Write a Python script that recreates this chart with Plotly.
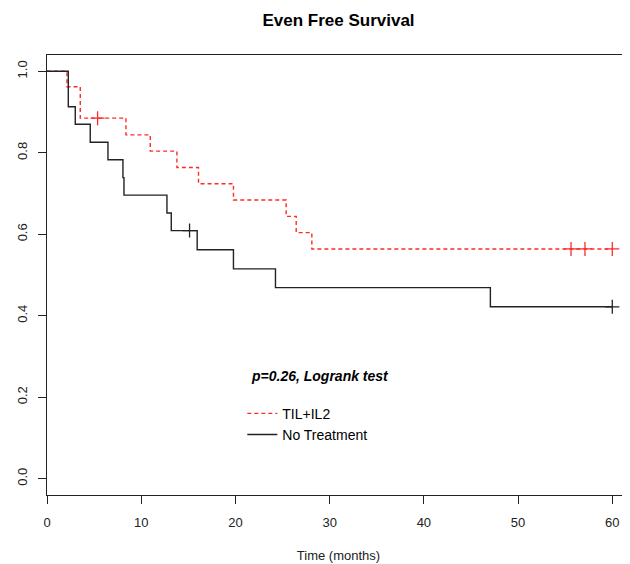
import plotly.graph_objects as go

# ---- data ----
til_times = [0, 2.12, 3.53, 8.38, 10.96, 13.79, 16.08, 19.79, 25.38, 26.45, 28.11, 60.0]
til_surv = [1.0, 0.962, 0.885, 0.844, 0.804, 0.764, 0.724, 0.684, 0.644, 0.604, 0.564, 0.564]
til_cens_times = [5.37, 55.62, 57.1, 60.0]
til_cens_surv = [0.885, 0.564, 0.564, 0.564]

nt_times = [0, 2.26, 3.0, 4.59, 6.47, 8.06, 8.17, 12.73, 13.19, 15.94, 19.79, 24.25, 47.06, 60.0]
nt_surv = [1.0, 0.913, 0.870, 0.826, 0.783, 0.739, 0.696, 0.652, 0.609, 0.562, 0.515, 0.469, 0.422, 0.422]
nt_cens_times = [15.13, 60.0]
nt_cens_surv = [0.609, 0.422]

x_ticks = [0, 10, 20, 30, 40, 50, 60]
y_ticks = [0.0, 0.2, 0.4, 0.6, 0.8, 1.0]
y_tick_labels = ["0.0", "0.2", "0.4", "0.6", "0.8", "1.0"]

FONT = "Arial, Liberation Sans, sans-serif"
RED = "#ff2a2a"
BLACK = "#222222"

fig = go.Figure()
fig.add_trace(go.Scatter(x=til_times, y=til_surv, mode="lines", line_shape="hv",
                         line=dict(color=RED, width=1.4, dash="4px,3px"), name="TIL+IL2"))
fig.add_trace(go.Scatter(x=nt_times, y=nt_surv, mode="lines", line_shape="hv",
                         line=dict(color=BLACK, width=1.4), name="No Treatment"))
fig.add_trace(go.Scatter(x=til_cens_times, y=til_cens_surv, mode="markers", showlegend=False,
                         marker=dict(symbol="cross-thin", size=10, line=dict(color=RED, width=1.3))))
fig.add_trace(go.Scatter(x=nt_cens_times, y=nt_cens_surv, mode="markers", showlegend=False,
                         marker=dict(symbol="cross-thin", size=10, line=dict(color=BLACK, width=1.3))))

fig.add_annotation(x=21.45, y=0.253, xref="x", yref="y", xanchor="left", yanchor="middle",
                   text="<b><i>p=0.26, Logrank test</i></b>", showarrow=False,
                   font=dict(family=FONT, size=14, color="black"))

axis_common = dict(showgrid=False, zeroline=False, showline=True, linecolor=BLACK, linewidth=1,
                   ticks="outside", ticklen=8, tickwidth=1, tickcolor=BLACK,
                   tickfont=dict(family=FONT, size=13, color="#222"))

# page body adds an 8px offset, so the figure is 8px smaller than the window
fig.update_layout(
    width=622, height=556,
    margin=dict(l=39, r=0, t=47, b=69),
    plot_bgcolor="white", paper_bgcolor="white",
    title=dict(text="<b>Even Free Survival</b>", x=0.5, xref="paper", xanchor="center",
               y=1 - 12 / 556, yref="container", yanchor="middle",
               font=dict(family=FONT, size=17, color="black")),
    xaxis=dict(range=[0, 61.88], tickvals=x_ticks, mirror=True, ticklabelstandoff=7,
               title=dict(text="Time (months)", font=dict(family=FONT, size=13, color="#222"), standoff=22),
               **axis_common),
    yaxis=dict(range=[-0.04, 1.04], tickvals=y_ticks, ticktext=y_tick_labels, tickangle=-90,
               ticklabelstandoff=6, **axis_common),
    legend=dict(x=0.335, y=0.221, xanchor="left", yanchor="top", bgcolor="rgba(0,0,0,0)",
                font=dict(family=FONT, size=14, color="black"), tracegroupgap=0),
    showlegend=True,
)

fig.write_html("out.html")
